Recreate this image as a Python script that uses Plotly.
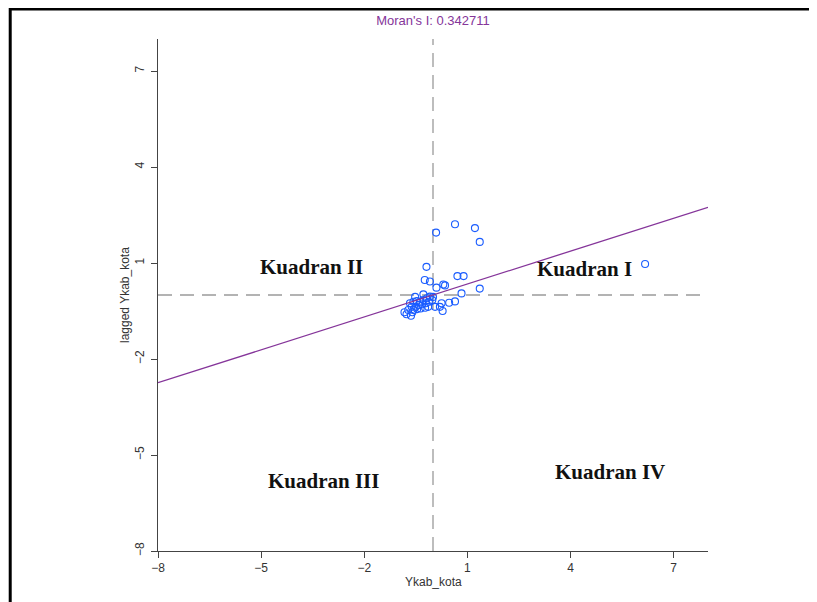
import plotly.graph_objects as go

# ---- data ----
ykab_kota = [0.09, 0.64, 1.22, 1.36, -0.19, -0.24, -0.09, 0.71, 0.89, 0.30,
             0.35, 0.10, 1.36, 0.83, -0.28, -0.52, 0.00, 0.64, 0.47, 0.25,
             0.06, 0.20, 0.28, 6.17, -0.67, -0.57, -0.47, -0.38, -0.28, -0.18,
             -0.09, -0.62, -0.50, -0.41, -0.31, -0.21, -0.12, -0.02, -0.72, -0.57,
             -0.46, -0.36, -0.23, -0.14, -0.77, -0.64, -0.60, -0.83]
lagged_ykab_kota = [1.95, 2.21, 2.09, 1.66, 0.88, 0.47, 0.42, 0.59, 0.59, 0.33,
                    0.30, 0.23, 0.20, 0.05, 0.02, -0.06, -0.06, -0.20, -0.24, -0.26,
                    -0.37, -0.37, -0.50, 0.97, -0.26, -0.21, -0.19, -0.21, -0.16, -0.10,
                    -0.05, -0.37, -0.37, -0.31, -0.29, -0.26, -0.21, -0.16, -0.47, -0.47,
                    -0.44, -0.42, -0.40, -0.37, -0.60, -0.65, -0.54, -0.54]
morans_i = 0.342711
axis_range = [-8, 8]
tick_values = [-8, -5, -2, 1, 4, 7]
quadrant_names = ["Kuadran I", "Kuadran II", "Kuadran III", "Kuadran IV"]
quadrant_x = [4.42, -3.53, -3.20, 5.15]
quadrant_y = [0.81, 0.875, -5.81, -5.53]
x_title = "Ykab_kota"
y_title = "lagged Ykab_kota"

line_x = axis_range
line_y = [morans_i * v for v in line_x]

purple = "#85359a"
fig = go.Figure()

fig.add_trace(go.Scatter(
    x=ykab_kota, y=lagged_ykab_kota, mode="markers",
    marker=dict(symbol="circle-open", size=7, color="#1a5cff",
                line=dict(width=1.1, color="#1a5cff")),
    showlegend=False, hoverinfo="x+y"))

fig.add_trace(go.Scatter(
    x=line_x, y=line_y, mode="lines",
    line=dict(color=purple, width=1.3), showlegend=False))

# dashed reference lines at the means
fig.add_shape(type="line", xref="x", yref="y", x0=0, x1=0, y0=axis_range[0], y1=axis_range[1],
              line=dict(color="#9a9a9a", width=1.3, dash="14px,8px"), layer="below")
fig.add_shape(type="line", xref="x", yref="y", x0=axis_range[0], x1=axis_range[1], y0=0, y1=0,
              line=dict(color="#9a9a9a", width=1.3, dash="14px,8px"), layer="below")

# frame lines (top and left) of the original document crop
fig.add_shape(type="line", xref="paper", yref="paper", x0=-0.27, x1=1.25, y0=1.0586, y1=1.0586,
              line=dict(color="black", width=3))
fig.add_shape(type="line", xref="paper", yref="paper", x0=-0.2687, x1=-0.2687, y0=1.0616, y1=-0.12,
              line=dict(color="black", width=3))

for name, qx, qy in zip(quadrant_names, quadrant_x, quadrant_y):
    fig.add_annotation(x=qx, y=qy, xref="x", yref="y", text="<b>" + name + "</b>",
                       showarrow=False,
                       font=dict(family="Liberation Serif", size=21, color="#111111"))

# axis titles
fig.add_annotation(x=0.5, y=-31 / 512, xref="paper", yref="paper", text=x_title,
                   showarrow=False, yanchor="middle", xanchor="center",
                   font=dict(family="Liberation Sans", size=12, color="#333333"))
fig.add_annotation(x=-33 / 550, y=0.5, xref="paper", yref="paper", text=y_title,
                   showarrow=False, textangle=-90, yanchor="middle", xanchor="center",
                   font=dict(family="Liberation Sans", size=12, color="#333333"))

fig.update_layout(
    width=817, height=602,
    margin=dict(l=150, r=117, t=31, b=59),
    paper_bgcolor="white", plot_bgcolor="white",
    font=dict(family="Liberation Sans", size=12, color="#333333"),
    title=dict(text="Moran's I: " + str(morans_i), x=425 / 817, xanchor="center",
               y=1 - 12 / 602, yanchor="middle",
               font=dict(family="Liberation Sans", size=13, color=purple)),
)
fig.update_xaxes(range=axis_range, tickvals=tick_values, showgrid=False, zeroline=False,
                 showline=True, linecolor="#444444", linewidth=1,
                 ticks="outside", ticklen=6, tickcolor="#444444")
fig.update_yaxes(range=axis_range, tickvals=tick_values, showgrid=False, zeroline=False,
                 showline=True, linecolor="#444444", linewidth=1,
                 ticks="outside", ticklen=6, tickcolor="#444444", tickangle=-90,
                 ticklabelstandoff=2)

fig.write_html("out.html")
